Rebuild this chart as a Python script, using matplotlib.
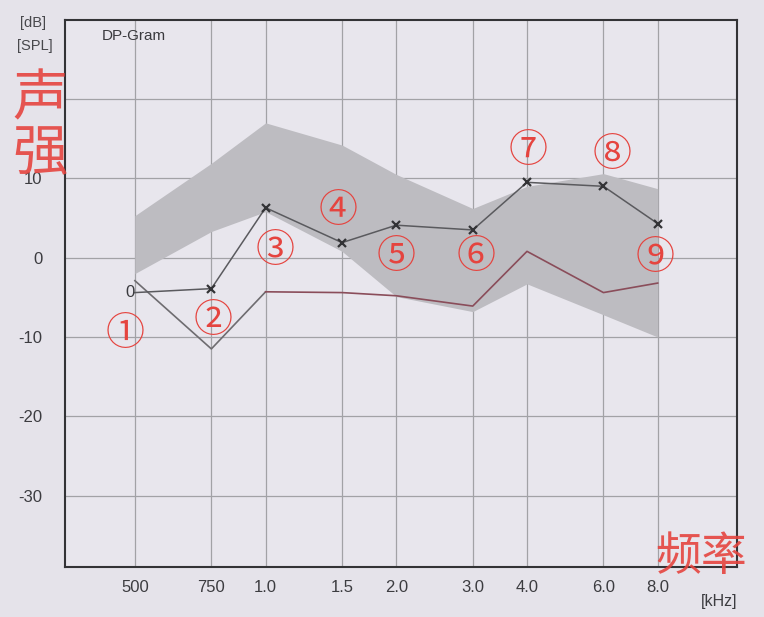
import numpy as np
import matplotlib
matplotlib.use('Agg')
from matplotlib import pyplot as plt

plt.rcParams['font.family'] = ['Liberation Sans', 'DejaVu Sans']
plt.rcParams['axes.unicode_minus'] = False

# frequencies (Hz) and tick labels
freqs = [500, 750, 1000, 1500, 2000, 3000, 4000, 6000, 8000]
freq_labels = ['500', '750', '1.0', '1.5', '2.0', '3.0', '4.0', '6.0', '8.0']

# DP amplitude, noise floor and normal range (dB SPL)
dp = [-4.4, -3.9, 6.3, 1.9, 4.1, 3.5, 9.5, 9.0, 4.3]
noise = [-2.9, -11.5, -4.3, -4.4, -4.8, -6.1, 0.8, -4.4, -3.2]
band_hi = [5.3, 11.9, 17.0, 14.2, 10.5, 6.2, 9.0, 10.6, 8.7]
band_lo = [-2.0, 3.3, 5.8, 0.8, -4.9, -6.8, -3.3, -7.2, -10.0]

# red hand-added annotations
marks = ['①', '②', '③', '④', '⑤', '⑥', '⑦', '⑧', '⑨']
mark_f = [474, 757, 1052, 1470, 2000, 3060, 4030, 6270, 7900]
mark_db = [-9.6, -8.0, 0.8, 5.9, 0.1, 0.1, 13.5, 12.9, -0.1]

y_ticks = [10, 0, -10, -20, -30]
y_grid = [20, 10, 0, -10, -20, -30]

paper = '#e5e3ea'
red = '#e5443f'
cjk = ['Noto Sans CJK SC', 'DejaVu Sans']

fig = plt.figure(figsize=(7.64, 6.17), dpi=100, facecolor=paper)
ax = fig.add_axes([0.085, 0.081, 0.880, 0.887], facecolor='#e8e6ed')

ax.set_xscale('log')
ax.set_xlim(345, 12200)
ax.set_ylim(-39, 30)

for f in freqs:
    ax.axvline(f, color='#a2a2a6', lw=0.9, zorder=0)
for g in y_grid:
    ax.axhline(g, color='#a2a2a6', lw=0.9, zorder=0)

ax.fill_between(freqs, band_lo, band_hi, color='#bdbcc1', lw=0, zorder=1)

# noise floor
ax.plot(freqs[:3], noise[:3], color='#6e6c70', lw=1.2, zorder=2)
ax.plot(freqs[2:], noise[2:], color='#8a4d5a', lw=1.2, zorder=2)

# measured DP
ax.plot(freqs, dp, color='#5a5a5e', lw=1.1, zorder=3)
ax.plot(freqs[1:], dp[1:], ls='none', marker='x', ms=6, mew=1.6, color='#333336', zorder=4)
ax.text(freqs[0], dp[0], '0', ha='right', va='center', fontsize=12, color='#3a3a3e', zorder=4)

ax.set_xticks(freqs)
ax.set_xticklabels(freq_labels)
ax.xaxis.set_minor_locator(matplotlib.ticker.NullLocator())
ax.set_yticks(y_ticks)
ax.tick_params(length=0, labelsize=12, labelcolor='#3c3c40')
ax.tick_params(axis='y', pad=16)
ax.tick_params(axis='x', pad=9)
for s in ax.spines.values():
    s.set_color('#333336')
    s.set_linewidth(1.5)

for m, f, d in zip(marks, mark_f, mark_db):
    ax.text(f, d, m, ha='center', va='center', fontsize=28, color=red, family=cjk,
            fontweight='medium', zorder=5)

fig.text(0.026, 0.962, '[dB]', fontsize=10.5, color='#48484c', va='center')
fig.text(0.022, 0.925, '[SPL]', fontsize=10.5, color='#48484c', va='center')
ax.text(0.055, 0.983, 'DP-Gram', transform=ax.transAxes, fontsize=11, color='#3a3a3e', va='top')
fig.text(0.918, 0.025, '[kHz]', fontsize=11.5, color='#3c3c40', va='center')

fig.text(0.052, 0.838, '声', fontsize=40, color=red, family=cjk, ha='center', va='center', alpha=0.9)
fig.text(0.052, 0.75, '强', fontsize=40, color=red, family=cjk, ha='center', va='center', alpha=0.9)
fig.text(0.918, 0.097, '频率', fontsize=33, color=red, family=cjk, ha='center', va='center', alpha=0.9)

fig.savefig('out.png', dpi=100, facecolor=paper)
